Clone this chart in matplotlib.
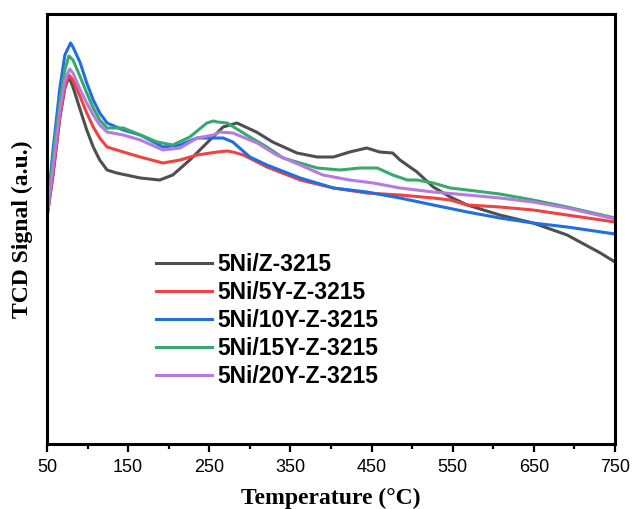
import numpy as np
import matplotlib
matplotlib.use('Agg')
import matplotlib.pyplot as plt
from matplotlib.ticker import MultipleLocator

# TPR profiles (temperature in C, signal in arbitrary units)
t_z = [50, 57, 66, 72, 77, 82, 91, 99, 107, 115, 124, 136, 165, 189, 205, 226, 247, 267, 284,
       308, 328, 358, 383, 403, 423, 444, 460, 476, 485, 506, 526, 547, 568, 608, 649, 691, 732, 750]
s_z = [227, 266, 327, 356, 367, 357, 334, 314, 297, 284, 274, 271, 266, 264, 269, 284, 301, 317, 321,
       312, 302, 291, 287, 287, 292, 296, 292, 291, 284, 272, 257, 247, 239, 229, 221, 209, 191, 182]

t_5y = [50, 57, 66, 72, 77, 82, 91, 99, 107, 115, 124, 144, 165, 193, 214, 235, 260, 272, 279,
        292, 321, 362, 403, 444, 485, 526, 547, 568, 608, 649, 691, 750]
s_5y = [227, 269, 329, 357, 369, 364, 347, 331, 317, 306, 297, 292, 287, 281, 284, 289, 292, 293, 292,
        289, 277, 264, 256, 251, 249, 246, 244, 239, 237, 234, 229, 222]

t_10y = [50, 57, 66, 72, 79, 82, 91, 99, 107, 115, 124, 144, 165, 193, 214, 235, 255, 267, 279,
         300, 321, 362, 403, 444, 485, 526, 568, 608, 649, 691, 750]
s_10y = [227, 291, 357, 389, 401, 397, 381, 361, 344, 331, 321, 314, 309, 297, 299, 306, 306, 306, 302,
         287, 279, 266, 256, 252, 246, 239, 232, 226, 221, 217, 210]

t_15y = [50, 57, 66, 72, 77, 82, 91, 99, 107, 115, 124, 144, 165, 186, 205, 226, 247, 255, 260, 272,
         300, 321, 341, 362, 383, 411, 436, 457, 476, 494, 506, 526, 547, 568, 608, 649, 691, 750]
s_15y = [227, 284, 344, 374, 388, 384, 367, 351, 336, 324, 316, 316, 309, 302, 299, 307, 321, 323, 322, 321,
         307, 297, 286, 281, 276, 274, 276, 276, 269, 264, 264, 261, 256, 254, 250, 244, 237, 226]

t_20y = [50, 57, 66, 72, 78, 82, 91, 99, 107, 115, 124, 144, 165, 193, 214, 235, 255, 263, 279,
         309, 333, 362, 390, 423, 452, 485, 526, 568, 608, 649, 691, 750]
s_20y = [227, 274, 334, 364, 375, 371, 354, 341, 329, 319, 312, 309, 304, 294, 296, 306, 309, 312, 311,
         301, 289, 279, 269, 264, 261, 256, 252, 249, 246, 242, 236, 225]

labels = ['5Ni/Z-3215', '5Ni/5Y-Z-3215', '5Ni/10Y-Z-3215', '5Ni/15Y-Z-3215', '5Ni/20Y-Z-3215']
colors = ['#4f4f4f', '#ef4242', '#1f6fe0', '#36a96b', '#b57be0']
xticks = [50, 150, 250, 350, 450, 550, 650, 750]

fig = plt.figure(figsize=(6.32, 5.09), dpi=100)
ax = fig.add_axes([47/632, 65/509, 568/632, 430/509])

series = [(t_z, s_z), (t_5y, s_5y), (t_10y, s_10y), (t_15y, s_15y), (t_20y, s_20y)]
for (t, s), lab, c in zip(series, labels, colors):
    ax.plot(t, s, color=c, lw=2.2, label=lab)

ax.set_xlim(50, 750)
ax.set_ylim(0, 430)
ax.set_xticks(xticks)
ax.xaxis.set_minor_locator(MultipleLocator(50))
ax.set_yticks([])
ax.tick_params(axis='x', which='major', direction='out', length=6, width=1.6,
               labelsize=13, pad=5)
ax.tick_params(axis='x', which='minor', direction='out', length=3.5, width=1.6)
for lab in ax.get_xticklabels():
    lab.set_fontfamily('Liberation Sans')
for sp in ax.spines.values():
    sp.set_linewidth(2.2)

ax.set_xlabel('Temperature (°C)', fontsize=17, fontweight='bold',
              fontfamily='Liberation Serif', labelpad=8)
ax.set_ylabel('TCD Signal (a.u.)', fontsize=17, fontweight='bold',
              fontfamily='Liberation Serif', labelpad=10)

leg = ax.legend(loc='center left', bbox_to_anchor=(0.155, 0.288), frameon=False,
                handlelength=2.45, handletextpad=0.25, labelspacing=0.22,
                prop={'family': 'Liberation Sans', 'weight': 'bold', 'size': 16.5})

fig.savefig('out.png', dpi=100)
